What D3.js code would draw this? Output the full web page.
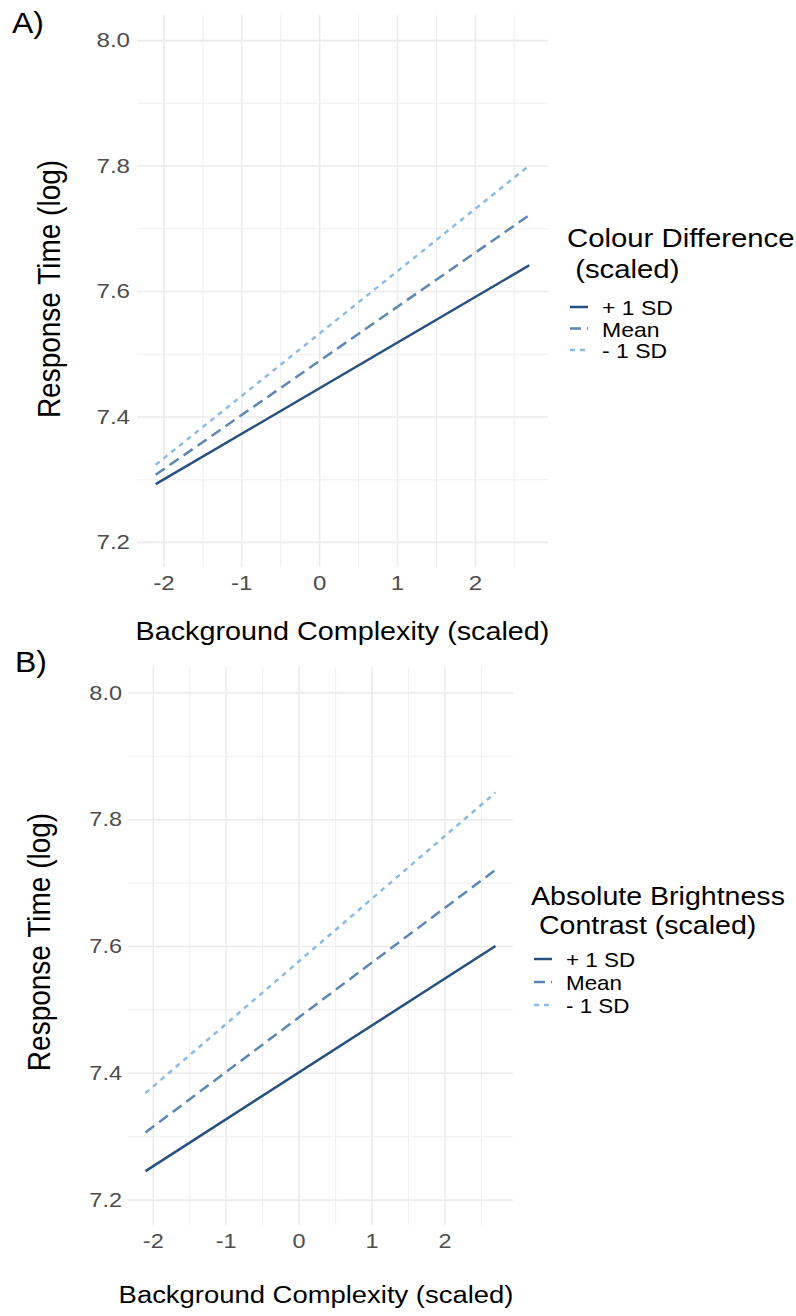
<!DOCTYPE html>
<html>
<head>
<meta charset="utf-8">
<script src="https://cdn.jsdelivr.net/npm/d3@7"></script>
<style>
  body { margin: 0; background: #fff; }
  svg { display: block; font-family: "Liberation Sans", Arial, sans-serif; }
</style>
</head>
<body>
<div id="chart"></div>
<script>
// values
const levels = ["+ 1 SD", "Mean", "- 1 SD"];
const xRange = [-2.1, 2.7];
const colourStart = [7.292, 7.307, 7.323];
const colourEnd = [7.641, 7.721, 7.800];
const brightStart = [7.245, 7.306, 7.368];
const brightEnd = [7.600, 7.720, 7.842];
const xTicks = [-2, -1, 0, 1, 2];
const xMinor = [-1.5, -0.5, 0.5, 1.5, 2.5];
const yTicks = [7.2, 7.4, 7.6, 7.8, 8.0];
const yMinor = [7.3, 7.5, 7.7, 7.9];

const colours = ["#26507f", "#5c87b4", "#8cbae4"];
const dashes = [null, "11,6", "5,5"];

const svg = d3.select("#chart")
  .append("svg")
  .attr("width", 796)
  .attr("height", 1316);

function drawPanel(cfg) {
  const x = d3.scaleLinear().domain([-2.34, 2.94]).range([cfg.left, cfg.right]);
  const y = d3.scaleLinear().domain([7.16, 8.04]).range([cfg.bottom, cfg.top]);
  const h = cfg.bottom - cfg.top;
  const w = cfg.right - cfg.left;
  const g = svg.append("g");

  // grid (minor first, then major)
  g.append("g")
    .attr("transform", `translate(0,${cfg.bottom})`)
    .call(d3.axisBottom(x).tickValues(xMinor).tickSize(-h).tickFormat(""))
    .call(s => s.select(".domain").remove())
    .selectAll("line").attr("stroke", "#efefef").attr("stroke-width", 1.1);
  g.append("g")
    .attr("transform", `translate(${cfg.left},0)`)
    .call(d3.axisLeft(y).tickValues(yMinor).tickSize(-w).tickFormat(""))
    .call(s => s.select(".domain").remove())
    .selectAll("line").attr("stroke", "#efefef").attr("stroke-width", 1.1);

  const xAxis = g.append("g")
    .attr("transform", `translate(0,${cfg.bottom})`)
    .call(d3.axisBottom(x).tickValues(xTicks).tickSize(-h).tickPadding(cfg.xPad)
      .tickFormat(d3.format("d")));
  xAxis.select(".domain").remove();
  xAxis.selectAll("line").attr("stroke", "#ebebeb").attr("stroke-width", 1.6);
  xAxis.selectAll("text")
    .attr("font-size", cfg.tick).attr("fill", "#4d4d4d")
    .attr("font-family", "Liberation Sans, Arial, sans-serif")
    .attr("y", cfg.xPad)
    .attr("transform", `scale(${cfg.sx},1)`)
    .text(d => d < 0 ? "-" + Math.abs(d) : d);

  const yAxis = g.append("g")
    .attr("transform", `translate(${cfg.left},0)`)
    .call(d3.axisLeft(y).tickValues(yTicks).tickSize(-w).tickFormat(d3.format(".1f")));
  yAxis.select(".domain").remove();
  yAxis.selectAll("line").attr("stroke", "#ebebeb").attr("stroke-width", 1.6);
  yAxis.selectAll("text")
    .attr("font-size", cfg.tick).attr("fill", "#4d4d4d")
    .attr("font-family", "Liberation Sans, Arial, sans-serif")
    .attr("x", -cfg.yPad / cfg.sx)
    .attr("transform", `scale(${cfg.sx},1)`);

  // lines
  const rows = levels.map((lv, i) => ({
    level: lv,
    pts: [[xRange[0], cfg.start[i]], [xRange[1], cfg.end[i]]]
  }));
  const line = d3.line().x(d => x(d[0])).y(d => y(d[1]));
  g.selectAll(".fit")
    .data(rows)
    .enter()
    .append("path")
    .attr("class", "fit")
    .attr("d", d => line(d.pts))
    .attr("fill", "none")
    .attr("stroke", (d, i) => colours[i])
    .attr("stroke-width", 2.5)
    .attr("stroke-dasharray", (d, i) => dashes[i]);

  // axis titles
  g.append("text")
    .attr("transform", `translate(${cfg.xTitle[0]},${cfg.xTitle[1]}) scale(${cfg.sx},1)`)
    .attr("text-anchor", "middle")
    .attr("font-size", cfg.titleSize)
    .text("Background Complexity (scaled)");
  g.append("text")
    .attr("transform", `translate(${cfg.yTitle[0]},${cfg.yTitle[1]}) scale(${cfg.sx},1) rotate(-90)`)
    .attr("text-anchor", "middle")
    .attr("font-size", cfg.yTitleSize)
    .text("Response Time (log)");

  // panel tag
  g.append("text")
    .attr("transform", `translate(${cfg.tag[0]},${cfg.tag[1]}) scale(1.1,1)`)
    .attr("font-size", 29)
    .text(cfg.tagText);

  // legend
  const lg = g.append("g");
  cfg.legendTitle.forEach((t, i) => {
    lg.append("text")
      .attr("transform", `translate(${cfg.legX},${cfg.legY + i * cfg.legLine}) scale(${cfg.sx},1)`)
      .attr("font-size", cfg.legTitleSize)
      .attr("xml:space", "preserve")
      .style("white-space", "pre")
      .text(t);
  });
  const items = lg.selectAll(".item")
    .data(levels)
    .enter()
    .append("g")
    .attr("class", "item")
    .attr("transform", (d, i) => `translate(${cfg.keyX},${cfg.keyY + i * cfg.keyStep})`);
  items.append("line")
    .attr("x1", 0).attr("x2", 18).attr("y1", 0).attr("y2", 0)
    .attr("stroke", (d, i) => colours[i])
    .attr("stroke-width", 2.5)
    .attr("stroke-dasharray", (d, i) => dashes[i]);
  items.append("text")
    .attr("transform", `translate(32,8) scale(${cfg.sx},1)`)
    .attr("font-size", cfg.legTextSize)
    .text(d => d);
}

drawPanel({
  left: 137, right: 548, top: 15, bottom: 567,
  start: colourStart, end: colourEnd,
  sx: 1.15, tick: 21, xPad: 8, yPad: 7,
  titleSize: 25, yTitleSize: 28,
  xTitle: [342.5, 640], yTitle: [60, 289],
  tag: [12, 33], tagText: "A)",
  legendTitle: ["Colour Difference", " (scaled)"],
  legX: 567, legY: 247, legLine: 31, legTitleSize: 25.5,
  keyX: 570, keyY: 307, keyStep: 21.5, legTextSize: 20
});

drawPanel({
  left: 128, right: 513, top: 667, bottom: 1225,
  start: brightStart, end: brightEnd,
  sx: 1.12, tick: 21, xPad: 8, yPad: 6,
  titleSize: 24.5, yTitleSize: 28,
  xTitle: [316, 1303], yTitle: [50, 942],
  tag: [15, 672], tagText: "B)",
  legendTitle: ["Absolute Brightness", " Contrast (scaled)"],
  legX: 531, legY: 905, legLine: 29, legTitleSize: 25.5,
  keyX: 534, keyY: 959, keyStep: 23, legTextSize: 20
});
</script>
</body>
</html>
